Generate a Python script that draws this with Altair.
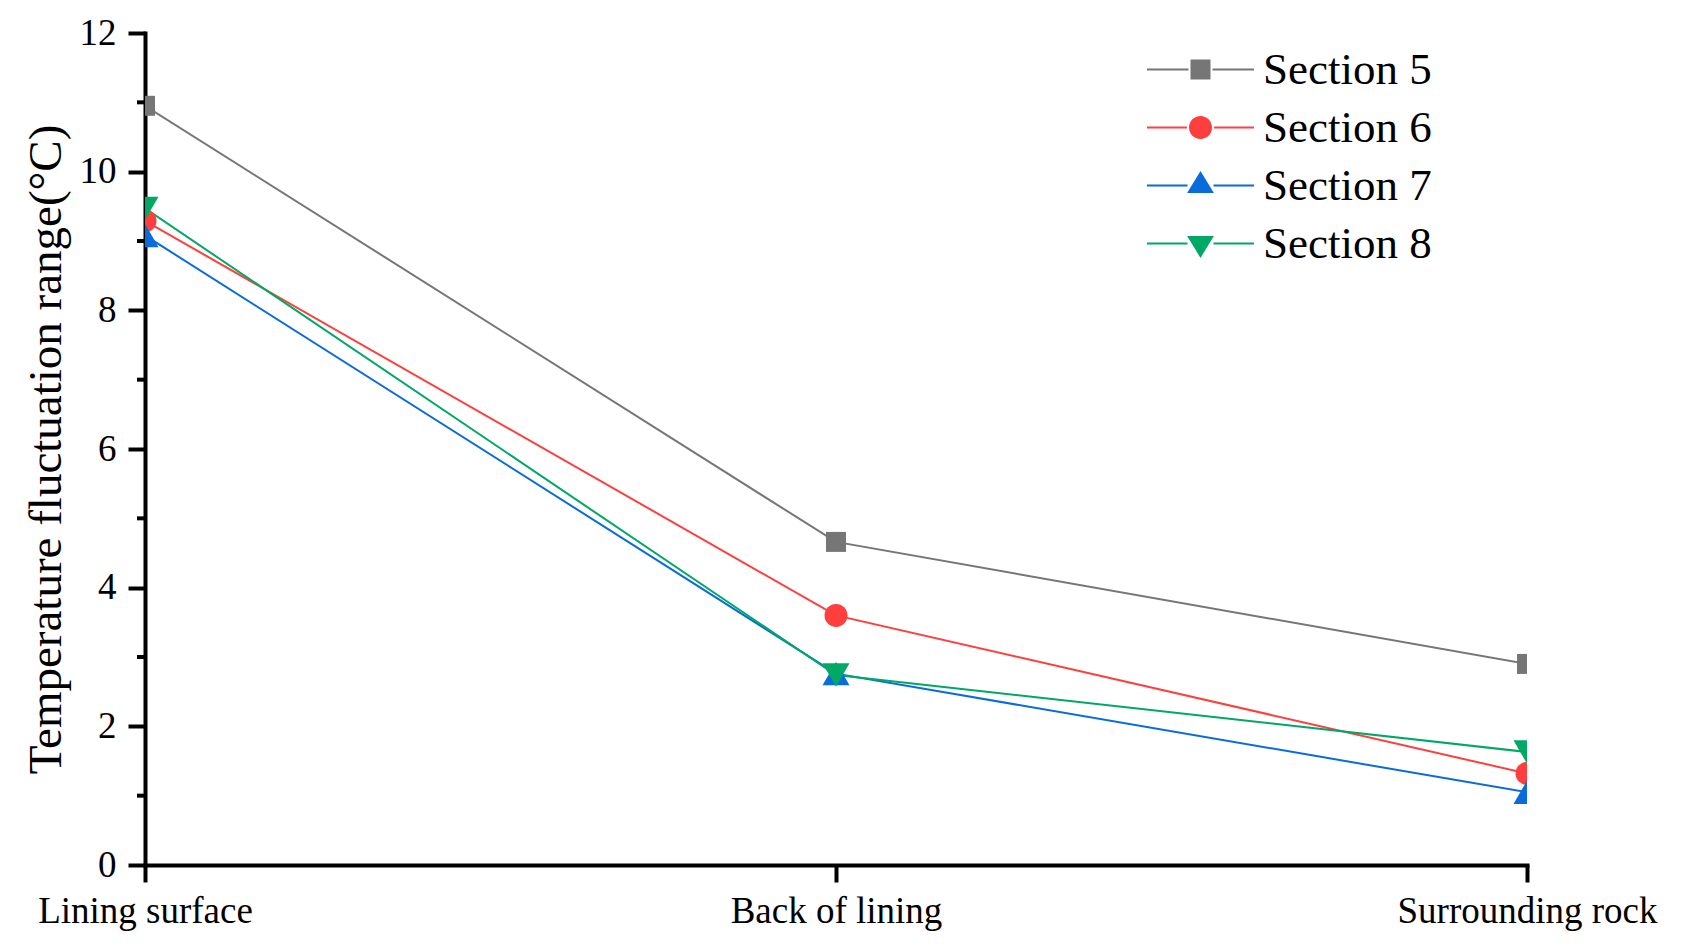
import altair as alt
import pandas as pd

# ---- data ----
categories = ["Lining surface", "Back of lining", "Surrounding rock"]
sections = ["Section 5", "Section 6", "Section 7", "Section 8"]
section5 = [10.95, 4.66, 2.90]
section6 = [9.29, 3.60, 1.32]
section7 = [9.08, 2.76, 1.05]
section8 = [9.47, 2.74, 1.63]
y_ticks = [0, 2, 4, 6, 8, 10, 12]
y_minor = [1, 3, 5, 7, 9, 11]

# ---- styles ----
colors = ["#767676", "#FF3E3E", "#0A6BDC", "#00A866"]
shapes = ["square", "circle", "triangle-up", "triangle-down"]
sizes = [400, 529, 729, 729]
FONT = "Liberation Serif"

# legend symbols: line segment + marker (unit = sqrt(size)/2)
legend_paths = [
    "M-2.675,-0.05H-0.6V0.05H-2.675Z M0.6,-0.05H2.675V0.05H0.6Z M-0.5,-0.5H0.5V0.5H-0.5Z",
    "M-2.675,-0.05H-0.68V0.05H-2.675Z M0.68,-0.05H2.675V0.05H0.68Z "
    "M0.575,0A0.575,0.575 0 1,1 -0.575,0A0.575,0.575 0 1,1 0.575,0Z",
    "M-2.675,-0.05H-0.65V0.05H-2.675Z M0.65,-0.05H2.675V0.05H0.65Z M0,-0.72L0.67,0.37L-0.67,0.37Z",
    "M-2.675,-0.05H-0.65V0.05H-2.675Z M0.65,-0.05H2.675V0.05H0.65Z M0,0.72L0.67,-0.37L-0.67,-0.37Z",
]

rows = []
for s, vals in zip(sections, [section5, section6, section7, section8]):
    for i, (c, v) in enumerate(zip(categories, vals)):
        rows.append({"Position": c, "Section": s, "Value": v, "Idx": i})
df = pd.DataFrame(rows)

x_enc = alt.X(
    "Position:N",
    sort=categories,
    scale=alt.Scale(type="point", padding=0),
    axis=alt.Axis(
        title=None, labelFont=FONT, labelFontSize=37, labelColor="black",
        labelPadding=11, labelAngle=0, labelLimit=0,
        tickSize=17, tickWidth=4, tickColor="black",
        domainColor="black", domainWidth=4, domainCap="square", grid=False,
    ),
)
y_enc = alt.Y(
    "Value:Q",
    scale=alt.Scale(domain=[0, 12], nice=False),
    axis=alt.Axis(
        values=y_ticks, format="d",
        title="Temperature fluctuation range(°C)",
        titleFont=FONT, titleFontSize=47, titleFontWeight="normal", titleColor="black",
        titleAngle=270, titleX=-85, titleY=416, titleAlign="center", titleBaseline="alphabetic",
        labelFont=FONT, labelFontSize=37, labelColor="black", labelPadding=12,
        tickSize=17, tickWidth=4, tickColor="black",
        domainColor="black", domainWidth=4, domainCap="square", grid=False,
    ),
)
color_scale = alt.Scale(domain=sections, range=colors)

lines = alt.Chart(df).mark_line(strokeWidth=2, clip=True).encode(
    x=x_enc, y=y_enc,
    color=alt.Color("Section:N", scale=color_scale, legend=None),
    order=alt.Order("Idx:Q"),
)

markers = []
for s, shp, sz in zip(sections, shapes, sizes):
    markers.append(
        alt.Chart(df).transform_filter(alt.datum.Section == s)
        .mark_point(filled=True, shape=shp, size=sz, opacity=1, strokeWidth=0, clip=True)
        .encode(x=x_enc, y=y_enc,
                color=alt.Color("Section:N", scale=color_scale, legend=None))
    )

minor = alt.Chart(pd.DataFrame({"Value": y_minor})).mark_rule(
    color="black", strokeWidth=4
).encode(y=y_enc, x=alt.value(-8), x2=alt.value(0))

leg_kwargs = dict(
    title=None, orient="none", legendX=1033, legendY=14, direction="vertical",
    symbolSize=1600, symbolStrokeWidth=0, symbolOpacity=1,
    labelFont=FONT, labelFontSize=45, labelColor="black", labelOffset=40,
    labelLimit=0, rowPadding=12, padding=0,
)
legend_layer = alt.Chart(pd.DataFrame({"Section": sections})).mark_point(
    filled=True, opacity=1, clip=True
).encode(
    x=alt.value(-5000), y=alt.value(-5000),
    color=alt.Color("Section:N", scale=color_scale, legend=alt.Legend(**leg_kwargs)),
    shape=alt.Shape("Section:N", scale=alt.Scale(domain=sections, range=legend_paths),
                    legend=alt.Legend(**leg_kwargs)),
)

chart = alt.layer(legend_layer, lines, *markers, minor).properties(
    width=1382, height=832, autosize="none",
    padding={"left": 137, "top": 25, "right": 147, "bottom": 71},
    background="white",
).configure_view(stroke=None)

chart.save("out.html", embed_options={"renderer": "svg", "actions": False})
